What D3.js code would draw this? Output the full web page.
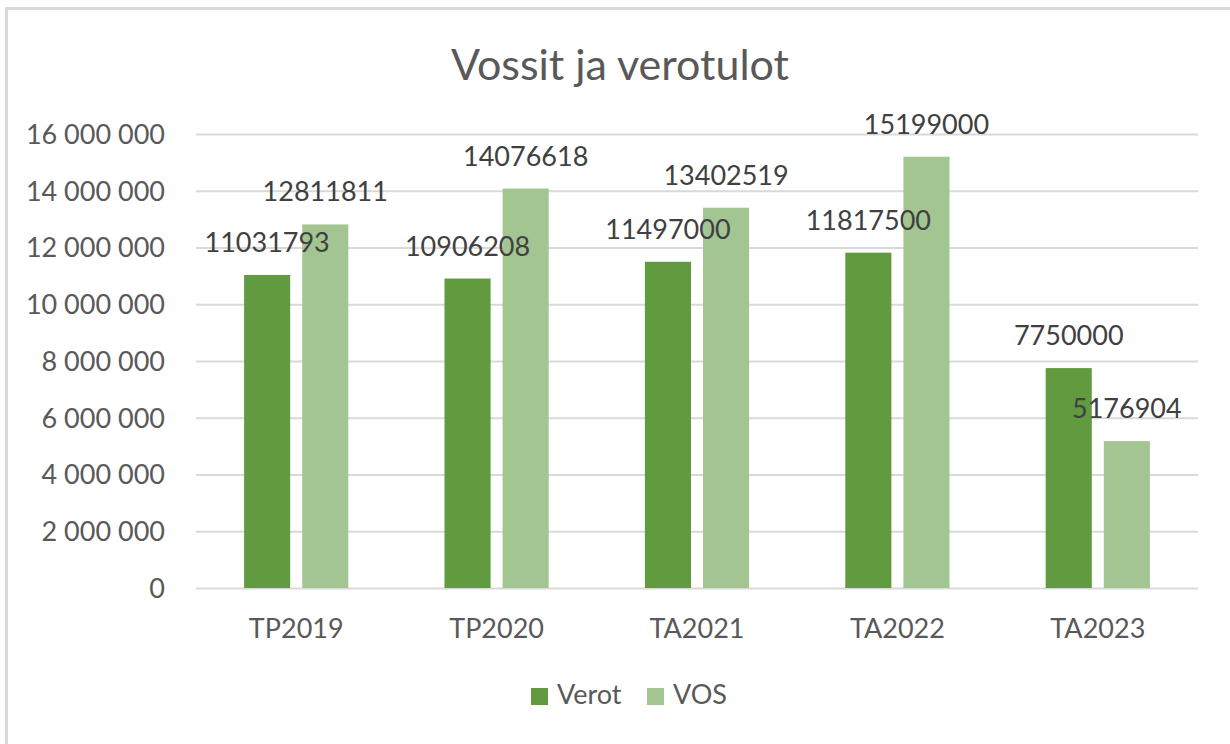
<!DOCTYPE html>
<html>
<head>
<meta charset="utf-8">
<script src="https://cdn.jsdelivr.net/npm/d3@7"></script>
<style>
  body { margin: 0; background: #fff; }
  svg text { font-family: Lato, "Open Sans", sans-serif; }
</style>
</head>
<body>
<svg id="chart" width="1230" height="744"></svg>
<script>
// Chart data
const categories = ["TP2019", "TP2020", "TA2021", "TA2022", "TA2023"];
const seriesNames = ["Verot", "VOS"];
const verot = [11031793, 10906208, 11497000, 11817500, 7750000];
const vos = [12811811, 14076618, 13402519, 15199000, 5176904];
const yTicks = [0, 2000000, 4000000, 6000000, 8000000, 10000000, 12000000, 14000000, 16000000];
const colors = ["#619a3f", "#a3c592"];

const svg = d3.select("#chart");
const margin = { top: 134, right: 32, bottom: 156, left: 196 };
const width = 1230 - margin.left - margin.right;
const height = 744 - margin.top - margin.bottom;

// outer frame (only top and left edges fall inside the picture)
svg.append("rect")
    .attr("x", 6.5).attr("y", 8.5)
    .attr("width", 1300).attr("height", 800)
    .attr("fill", "none")
    .attr("stroke", "#d9d9d9")
    .attr("stroke-width", 3);

// title
svg.append("text")
    .attr("x", 620)
    .attr("y", 80)
    .attr("text-anchor", "middle")
    .style("font-size", "43px")
    .attr("fill", "#595959")
    .text("Vossit ja verotulot");

const g = svg.append("g").attr("transform", `translate(${margin.left}, ${margin.top})`);

const x0 = d3.scaleBand().domain(categories).range([0, width]).paddingInner(0.48).paddingOuter(0.24);
const x1 = d3.scaleBand().domain(seriesNames).range([0, x0.bandwidth()]).paddingInner(0.207);
const y = d3.scaleLinear().domain([0, 16000000]).range([height, 0]);

// gridlines + y labels
const yAxis = g.append("g")
    .call(d3.axisLeft(y).tickValues(yTicks).tickSize(-width)
        .tickFormat(d => d3.format(",")(d).replace(/,/g, " ")));
yAxis.select(".domain").remove();
yAxis.selectAll(".tick line").attr("stroke", "#d9d9d9").attr("stroke-width", 2);
yAxis.selectAll(".tick text")
    .attr("x", -31)
    .attr("dy", "0.35em")
    .style("font-size", "27px")
    .attr("fill", "#595959");

// x labels
const xAxis = g.append("g")
    .attr("transform", `translate(0, ${height})`)
    .call(d3.axisBottom(x0).tickSize(0));
xAxis.select(".domain").remove();
xAxis.selectAll(".tick text")
    .attr("y", 50)
    .attr("dy", 0)
    .style("font-size", "27px")
    .attr("fill", "#595959");

const rows = categories.map((c, i) => ({ cat: c, values: [verot[i], vos[i]] }));

const group = g.selectAll(".group")
    .data(rows)
    .enter()
    .append("g")
    .attr("class", "group")
    .attr("transform", d => `translate(${x0(d.cat)}, 0)`);

group.selectAll("rect")
    .data(d => d.values.map((v, k) => ({ name: seriesNames[k], value: v, k: k })))
    .enter()
    .append("rect")
    .attr("x", d => x1(d.name))
    .attr("y", d => y(d.value))
    .attr("width", x1.bandwidth())
    .attr("height", d => height - y(d.value))
    .attr("fill", d => colors[d.k]);

// data labels
group.selectAll(".lbl")
    .data(d => d.values.map((v, k) => ({ name: seriesNames[k], value: v })))
    .enter()
    .append("text")
    .attr("class", "lbl")
    .attr("x", d => x1(d.name) + x1.bandwidth() / 2)
    .attr("y", d => y(d.value) - 23)
    .attr("text-anchor", "middle")
    .style("font-size", "27px")
    .attr("fill", "#404040")
    .text(d => d.value);

// legend
const legend = svg.append("g").attr("transform", "translate(531, 688)");
const legendX = [0, 116];
const legendItem = legend.selectAll(".legend-item")
    .data(seriesNames)
    .enter()
    .append("g")
    .attr("class", "legend-item")
    .attr("transform", (d, i) => `translate(${legendX[i]}, 0)`);
legendItem.append("rect")
    .attr("width", 17).attr("height", 17)
    .attr("fill", (d, i) => colors[i]);
legendItem.append("text")
    .attr("x", 26)
    .attr("y", 16)
    .style("font-size", "27px")
    .attr("fill", "#595959")
    .text(d => d);
</script>
</body>
</html>
